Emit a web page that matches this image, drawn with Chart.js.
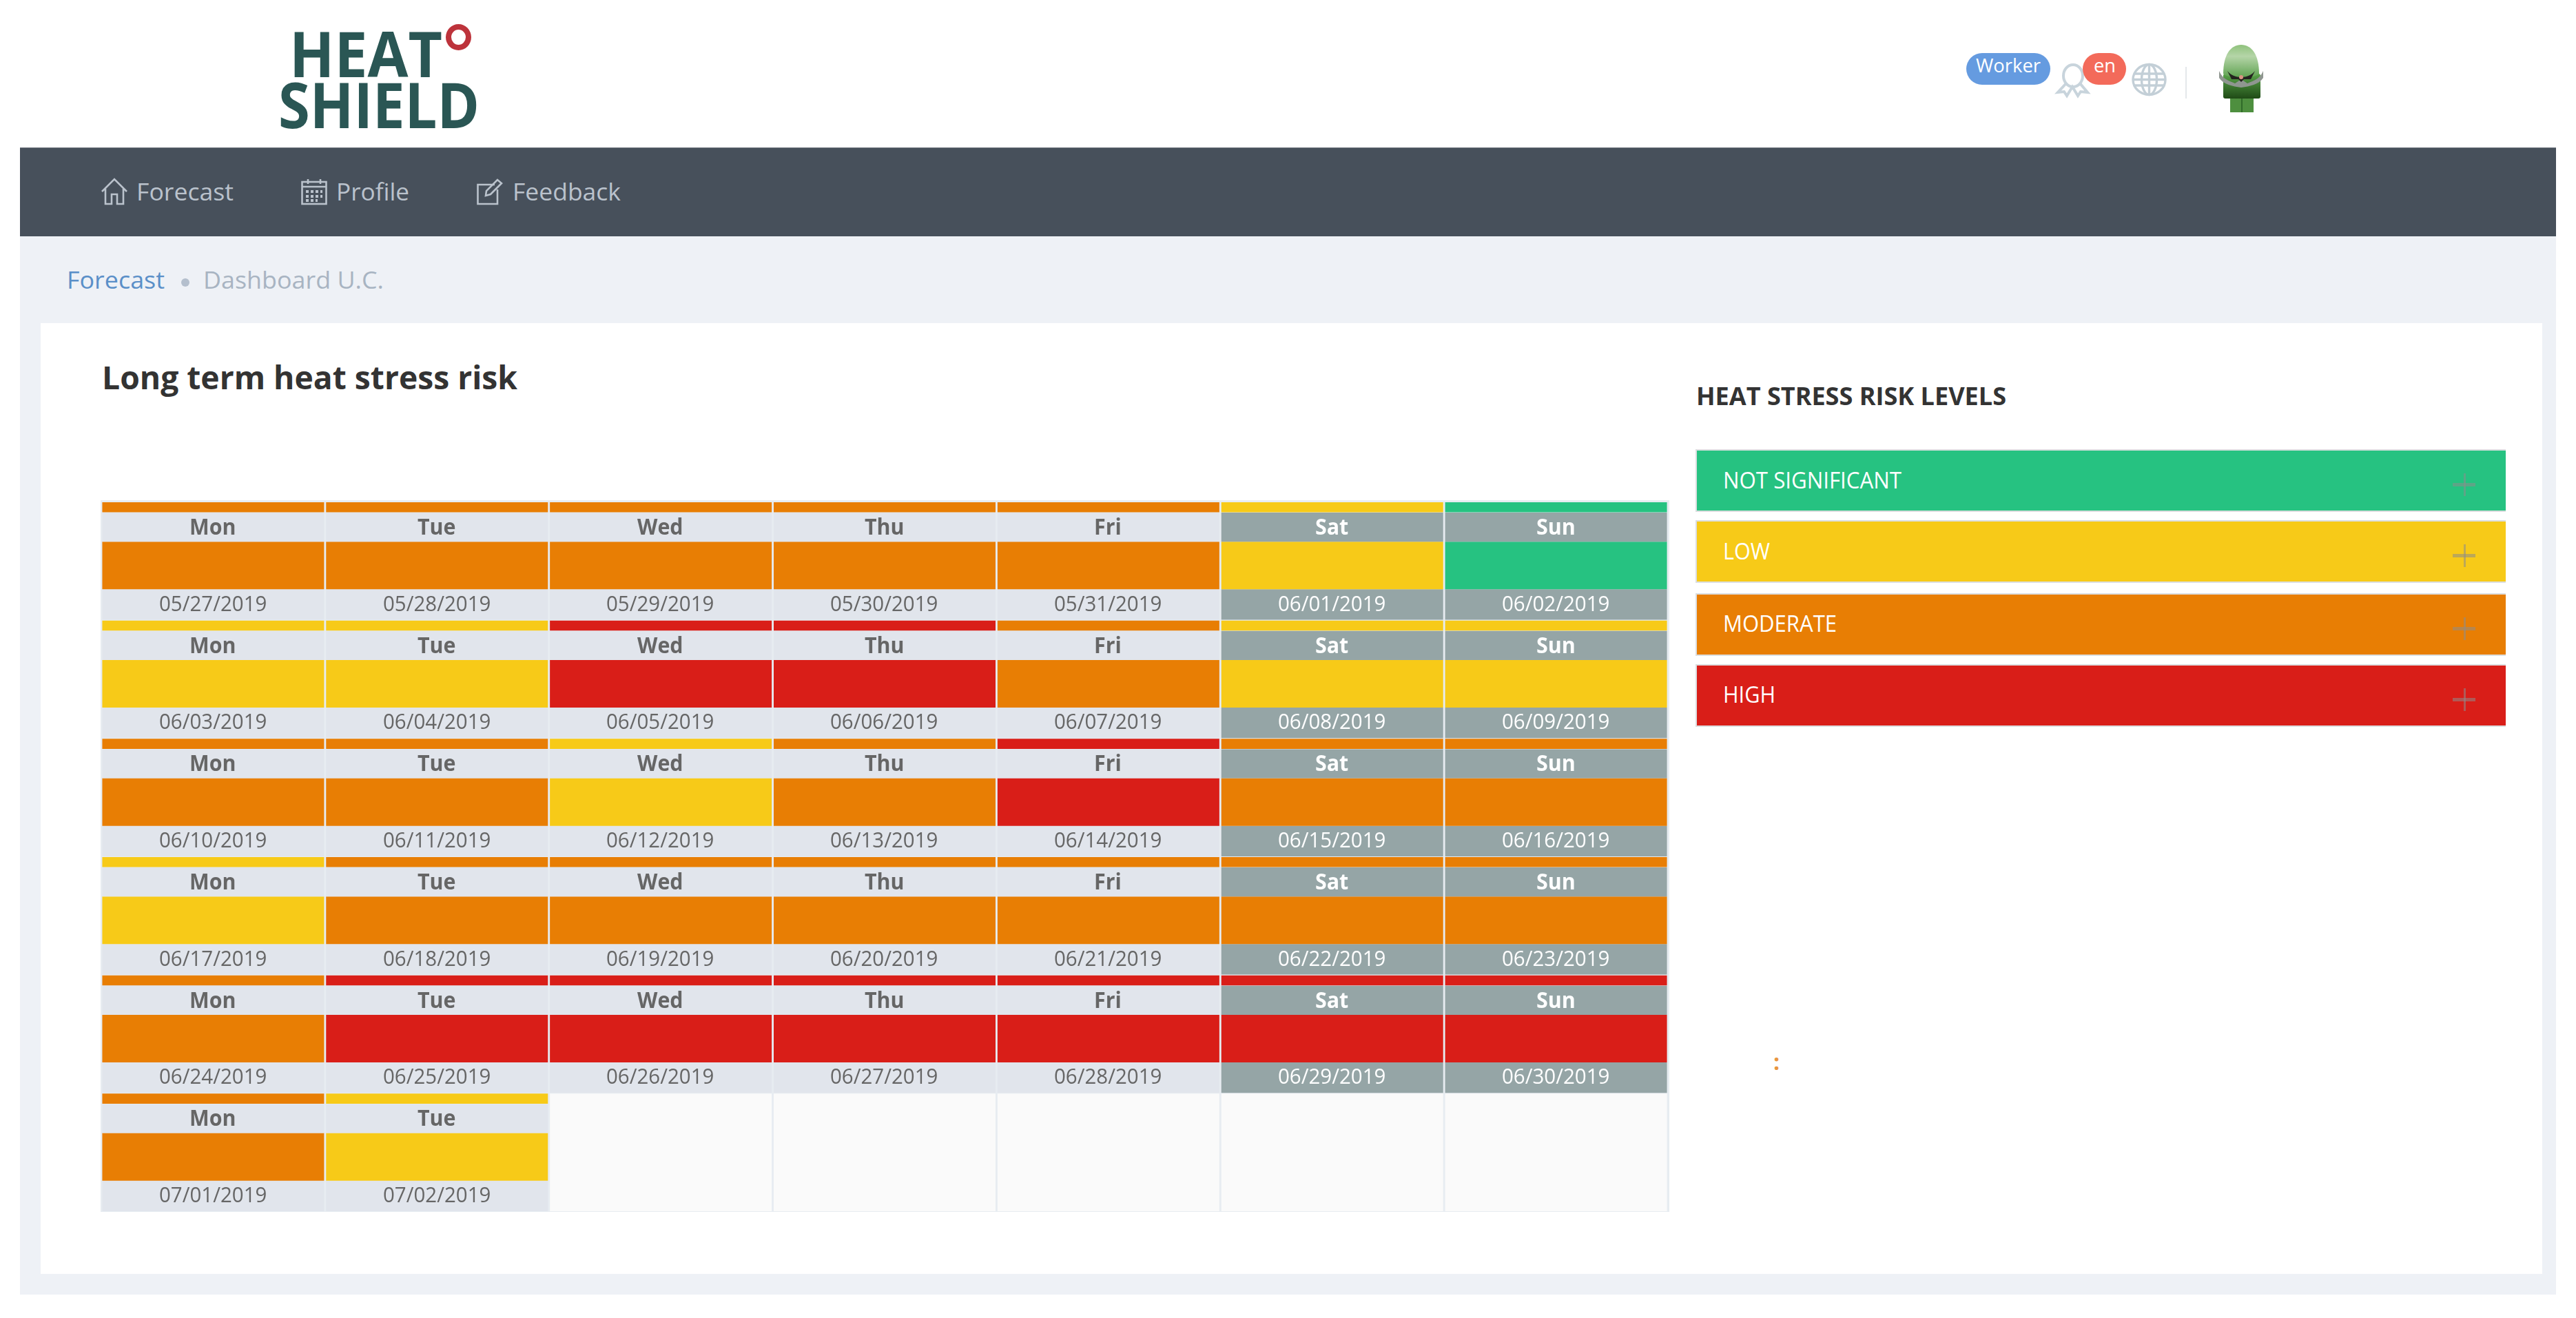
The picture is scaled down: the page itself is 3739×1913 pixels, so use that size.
<!DOCTYPE html>
<html><head><meta charset="utf-8">
<script src="https://cdn.jsdelivr.net/npm/chart.js@4"></script>
<style>
html,body{margin:0;padding:0;background:#fff;width:3739px;height:1913px;overflow:hidden;font-family:"Open Sans",sans-serif}
#page{position:absolute;left:0;top:0;width:3739px;height:1913px;background:#fff;filter:blur(.7px)}
.box{position:absolute}
.t{position:absolute;white-space:pre;line-height:1;transform-origin:0 50%}
svg{position:absolute;overflow:visible}
</style></head><body>
<div id="page"></div>
<script>
const weekdays=["Mon","Tue","Wed","Thu","Fri","Sat","Sun"];
const week1=["05/27/2019","05/28/2019","05/29/2019","05/30/2019","05/31/2019","06/01/2019","06/02/2019"];
const week2=["06/03/2019","06/04/2019","06/05/2019","06/06/2019","06/07/2019","06/08/2019","06/09/2019"];
const week3=["06/10/2019","06/11/2019","06/12/2019","06/13/2019","06/14/2019","06/15/2019","06/16/2019"];
const week4=["06/17/2019","06/18/2019","06/19/2019","06/20/2019","06/21/2019","06/22/2019","06/23/2019"];
const week5=["06/24/2019","06/25/2019","06/26/2019","06/27/2019","06/28/2019","06/29/2019","06/30/2019"];
const week6=["07/01/2019","07/02/2019"];
const risk1=[2,2,2,2,2,1,0];
const risk2=[1,1,3,3,2,1,1];
const risk3=[2,2,1,2,3,2,2];
const risk4=[1,2,2,2,2,2,2];
const risk5=[2,3,3,3,3,3,3];
const risk6=[2,1];
const levelNames=["NOT SIGNIFICANT","LOW","MODERATE","HIGH"];
const levelColors=["#26c281","#f7ca18","#e87e04","#d91e18"];
const navItems=["Forecast","Profile","Feedback"];

const page=document.getElementById('page');
function box(x,y,w,h,css){const d=document.createElement('div');d.className='box';
 d.style.cssText=`left:${x}px;top:${y}px;width:${w}px;height:${h}px;${css||''}`;page.appendChild(d);return d;}
function T(text,x,base,fs,color,weight,w,center){const s=document.createElement('span');s.className='t';s.textContent=text;
 s.style.cssText=`left:${x}px;top:${base-.888*fs}px;font-size:${fs}px;color:${color};font-weight:${weight||400};`;page.appendChild(s);
 const m=s.getBoundingClientRect().width;
 if(center){const ww=w?m*w:m;s.style.left=(x-ww/2)+'px';if(w)s.style.transform=`scaleX(${w})`;}
 else if(w){s.style.transform=`scaleX(${w/m})`;}
 return s;}
function svg(x,y,w,h,inner){const d=document.createElement('div');
 d.innerHTML=`<svg style="left:${x}px;top:${y}px" width="${w}" height="${h}" viewBox="0 0 ${w} ${h}">${inner}</svg>`;page.appendChild(d.firstChild);}

/* page frame */
box(28.7,214,3681.3,129,'background:#47505b;border-top:1px solid #6f757e;box-sizing:border-box');
box(28.7,343,3681.3,1536,'background:#eef1f6');
box(58.7,469,3631.3,1380,'background:#fff');

/* logo */
T("HEAT",420,113,92,'#2a5654',700,222);
T("SHIELD",404,187,92,'#2a5654',700,292);
box(647,35,37,38,'border:8px solid #bd333b;border-radius:50%;box-sizing:border-box');

/* header right */
box(2854,77,122,46,'background:#659be0;border-radius:23px');
T("Worker",2868,105,27,'#fff',400,94);
svg(2984,92,50,48,`<g fill="none" stroke="#c8d4dc" stroke-width="4"><ellipse cx="25" cy="18" rx="14" ry="16"/><path d="M15 29 L3 42 L12 41 L16 47 L24 34 L32 47 L36 41 L46 42 L35 29"/></g>`);
box(3023,77,63,46,'background:#f36a5a;border-radius:23px');
T("en",3039,105,27,'#fff',400,32);
svg(3094,92,51,47,`<g fill="none" stroke="#c3cfd7" stroke-width="3.4"><ellipse cx="25.5" cy="23.5" rx="23.5" ry="22"/><ellipse cx="25.5" cy="23.5" rx="11" ry="22"/><path d="M25.5 1.5V45.5M3 15H48M3 32H48M2 23.5H49"/></g>`);
box(3172,97,1.5,46,'background:#e4e8eb');
svg(3220,65,66,98,`<defs><linearGradient id="h" x1="0" x2="0" y1="0" y2="1"><stop offset="0" stop-color="#8fc27c"/><stop offset=".35" stop-color="#b5d5a8"/><stop offset="1" stop-color="#5da14f"/></linearGradient><linearGradient id="b" x1="0" x2="0" y1="0" y2="1"><stop offset="0" stop-color="#5aa44a"/><stop offset="1" stop-color="#1f4a16"/></linearGradient></defs>
<rect x="17" y="72" width="34" height="26" fill="#4e8f3f"/><rect x="33" y="72" width="2" height="26" fill="#2f6a28"/>
<rect x="7" y="42" width="54" height="36" rx="3" fill="url(#b)"/>
<path d="M7 42 C7 14 18 0 33 0 C48 0 59 14 59 42 C50 50 16 50 7 42Z" fill="url(#h)"/>
<path d="M1 38 C6 50 15 52 24 56 L33 50 L42 56 C51 52 60 50 65 38 L65 48 C58 58 46 60 33 62 C20 60 8 58 1 48Z" fill="#8f9690"/>
<path d="M13 38 C22 50 44 50 53 38 L47 50 L37 50 L33 54 L29 50 L19 50Z" fill="#24231f"/>
<circle cx="33" cy="47" r="3" fill="#d99582"/>`);

/* nav */
const nc='#bac2cc';
svg(147,259,38,38,`<g fill="none" stroke="${nc}" stroke-width="2.6"><path d="M1 19 L19 1 L37 19M6 15V37H15V23H23V37H32V15"/></g>`);
T(navItems[0],198,291,35,nc,400,141);
svg(437,259,38,38,`<g fill="none" stroke="${nc}" stroke-width="2.6"><rect x="1.5" y="5" width="35" height="32"/><path d="M1.5 12H36.5M10 1V8M28 1V8"/><path stroke-width="4" stroke-dasharray="4 3" d="M7 19H31M7 26H31M7 32H24"/></g>`);
T(navItems[1],488,291,35,nc,400,106);
svg(692,259,38,38,`<g fill="none" stroke="${nc}" stroke-width="2.6"><path d="M26 9H1.5V37H30V16"/><path d="M13 25 L14 18 L30 2 L36 7 L20 23Z"/></g>`);
T(navItems[2],744,291,35,nc,400,157);

/* breadcrumb */
T("Forecast",97,419,35,'#5a8fc8',400,142);
box(263,404,12,12,'background:#b4bfcd;border-radius:50%');
T("Dashboard U.C.",295,419,35,'#a8b4c2',400,262);

/* headings */
T("Long term heat stress risk",148,565,46,'#333',700,603);
T("HEAT STRESS RISK LEVELS",2462,588,35,'#333',700,450);

/* legend */
const legendTop=[652,755,861,963.5];
const legendBase=[709,812,917,1020];
const legendW=[259,68,165,76];
levelNames.forEach((n,i)=>{
 box(2461,legendTop[i],1176,91,`background:${levelColors[i]};border:2.6px solid #dcdee0;box-sizing:border-box;border-right:0`);
 T(n,2501,legendBase[i],32,'#fff',400,legendW[i]);
 box(3576,legendTop[i]+35,2.5,33,'background:rgba(140,140,140,.55)');
 box(3560,legendTop[i]+49,33,5,'background:rgba(140,140,140,.55)');
});
/* stray marks next to the legend column */
T(":",2574,1553,32,'#e8963f',700);

/* calendar table */
const weeks=[week1,week2,week3,week4,week5,week6];
const risks=[risk1,risk2,risk3,risk4,risk5,risk6];
box(145.5,726,2277,1032.7,'background:#e7ecf1');
const canvasLeft=146.5,canvasTop=729;
const cv=document.createElement('canvas');
cv.style.cssText=`position:absolute;left:${canvasLeft}px;top:${canvasTop}px;width:2274px;height:1030px`;
cv.width=2274;cv.height=1030;page.appendChild(cv);

const greyDay='#e1e5ec',greyEnd='#95a5a6',emptyBg='#fafafa';
const layers={strip:[0,.085],head:[.088,.3337],block:[.3337,.7357],date:[.7357,.9936]};
function layerData(name){const [a,b]=layers[name],out=[];
 weeks.forEach((w,r)=>w.forEach((_,c)=>out.push({x:weekdays[c],y:[r+a,r+b],risk:risks[r][c],col:c})));return out;}
function emptyData(){const out=[];weeks.forEach((w,r)=>{for(let c=w.length;c<7;c++)out.push({x:weekdays[c],y:[r,r+.9936]});});return out;}
const common={grouped:false,barPercentage:.9912,categoryPercentage:1,borderWidth:0,borderSkipped:false};
const chart=new Chart(cv,{type:'bar',
 data:{labels:weekdays,datasets:[
  {...common,label:'empty',data:emptyData(),backgroundColor:emptyBg},
  {...common,label:'strip',data:layerData('strip'),backgroundColor:c=>levelColors[c.raw.risk]},
  {...common,label:'head',data:layerData('head'),backgroundColor:c=>c.raw.col>=5?greyEnd:greyDay},
  {...common,label:'block',data:layerData('block'),backgroundColor:c=>levelColors[c.raw.risk]},
  {...common,label:'date',data:layerData('date'),backgroundColor:c=>c.raw.col>=5?greyEnd:greyDay}
 ]},
 options:{responsive:false,animation:false,devicePixelRatio:1,
  layout:{padding:0},
  plugins:{legend:{display:false},tooltip:{enabled:false},title:{display:false}},
  scales:{
   x:{type:'category',display:false,offset:true,grid:{display:false}},
   y:{type:'linear',display:false,reverse:true,min:0,max:6,grid:{display:false}}
  }}
});

/* day and date labels, positioned through the chart's scales */
weeks.forEach((w,r)=>w.forEach((d,c)=>{
 const x=canvasLeft+chart.scales.x.getPixelForValue(c);
 const col=c>=5?'#fff':'#666';
 const yHead=canvasTop+chart.scales.y.getPixelForValue(r+.2871)-2;
 const yDate=canvasTop+chart.scales.y.getPixelForValue(r+.9336)-2;
 T(weekdays[c],x,yHead,32,col,700,.95,true);
 T(d,x,yDate,31,col,400,.95,true);
}));
</script>
</body></html>
